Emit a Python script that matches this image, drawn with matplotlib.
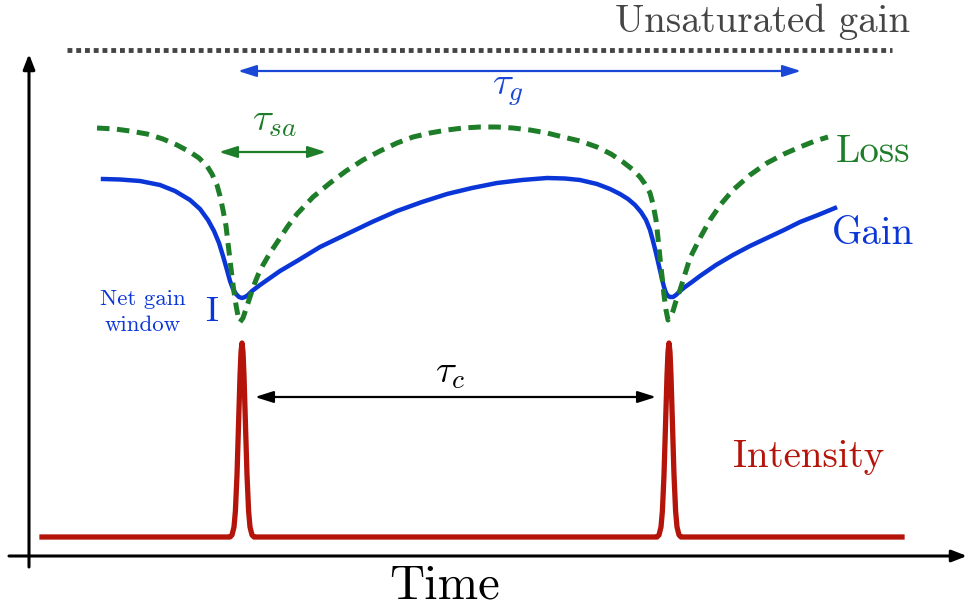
import matplotlib.pyplot as plt

plt.rcParams['font.family'] = 'serif'
plt.rcParams['font.serif'] = ['cmr10']
plt.rcParams['mathtext.fontset'] = 'cm'
plt.rcParams['axes.formatter.use_mathtext'] = True

# time axis runs left to right, level axis runs top (small) to bottom (large)
gain_t = [103, 120, 140, 160, 175, 190, 200, 208, 214, 219, 223, 227, 230, 233, 236,
          239, 242, 245, 248, 252, 256, 260, 270, 280, 297, 320, 347, 372, 397, 422,
          447, 472, 497, 522, 547, 565, 580, 597, 610, 620, 628, 635, 641, 646, 650,
          653, 656, 659, 662, 664, 666, 668, 670, 673, 676, 680, 685, 692, 700, 716,
          733, 750, 767, 784, 800, 818, 835]
gain_y = [179, 179.5, 181, 185, 191, 200, 209, 220, 231, 243, 256, 270, 281, 289, 294,
          297, 298, 297, 295, 291, 288, 285, 278, 271, 261, 247, 234, 222, 211, 202,
          194, 188, 183, 180, 178, 178.5, 180, 184, 189, 194, 199, 205, 212, 220, 230,
          241, 253, 266, 279, 287, 293, 296, 297, 297, 295, 291, 287, 282, 276, 265,
          255, 246, 238, 230, 222, 215, 208]

loss_t = [97, 115, 130, 147, 163, 177, 190, 199, 207, 212, 217, 220, 223, 226, 228,
          230, 232, 234, 236, 238, 240, 243, 246, 250, 254, 258, 263, 270, 280, 288,
          297, 313, 330, 346, 363, 380, 397, 413, 430, 447, 463, 480, 497, 513, 530,
          547, 563, 580, 597, 611, 623, 632, 640, 645, 650, 653, 656, 658, 660, 662,
          664, 666, 668, 670, 673, 676, 680, 685, 690, 700, 710, 721, 733, 750, 767,
          784, 800, 815, 828]
loss_y = [128, 129, 131, 134, 139, 145, 152, 158, 166, 174, 185, 196, 210, 226, 243,
          260, 277, 292, 305, 316, 322, 318, 309, 297, 285, 275, 265, 253, 238, 226,
          214, 197, 183, 171, 160, 151, 143, 137, 133, 130, 128, 127, 127, 128, 130,
          133, 137, 141, 147, 154, 162, 169, 177, 184, 193, 204, 220, 238, 258, 276,
          295, 310, 320, 318, 311, 301, 290, 274, 258, 238, 220, 204, 190, 175, 163,
          154, 147, 141, 137]

intensity_t = [42, 230, 232, 234, 235.4, 237, 238.7, 240, 241, 242, 243, 244, 245.3, 247,
               248.6, 250, 252, 254, 657, 659, 661, 662.4, 664, 665.7, 667, 668, 669,
               670, 671, 672.3, 674, 675.6, 677, 679, 681, 902]
intensity_y = [537, 537, 535, 527, 511, 475, 419, 376, 352, 343, 352, 376, 419, 475,
               511, 527, 535, 537, 537, 535, 527, 511, 475, 419, 376, 352, 343, 352,
               376, 419, 475, 511, 527, 535, 537, 537]

unsat_t = [67, 892]
unsat_y = [50, 50]

c_gain = '#0a36d8'
c_loss = '#1e7d28'
c_int = '#b5140a'
c_unsat = '#454545'

fig = plt.figure(figsize=(9.69, 6.10), dpi=100)
ax = fig.add_axes([0, 0, 1, 1])
ax.set_xlim(0, 969)
ax.set_ylim(610, 0)
ax.axis('off')

# axes with arrow tips
ax.annotate('', xy=(29, 54), xytext=(29, 567),
            arrowprops=dict(arrowstyle='-|>,head_length=0.9,head_width=0.35',
                            color='black', lw=2.2, shrinkA=0, shrinkB=0))
ax.annotate('', xy=(967, 556), xytext=(9, 556),
            arrowprops=dict(arrowstyle='-|>,head_length=0.9,head_width=0.35',
                            color='black', lw=2.2, shrinkA=0, shrinkB=0))

# curves
ax.plot(unsat_t, unsat_y, color=c_unsat, lw=3.5, dashes=(1.0, 0.8),
        solid_capstyle='butt', dash_capstyle='butt')
ax.plot(intensity_t, intensity_y, color=c_int, lw=3.8, solid_joinstyle='round')
ax.plot(gain_t, gain_y, color=c_gain, lw=3.2, solid_joinstyle='round')
ax.plot(loss_t, loss_y, color=c_loss, lw=3.6, dashes=(2.5, 1.5), dash_capstyle='butt')

# time scales
def span(x0, x1, y, color, lw=1.6):
    ax.annotate('', xy=(x1, y), xytext=(x0, y),
                arrowprops=dict(arrowstyle='<|-|>,head_length=1.1,head_width=0.35',
                                color=color, lw=lw, shrinkA=0, shrinkB=0))

span(238, 801, 71, '#1a47d6')
span(219, 326, 152, c_loss)
span(255, 656, 397, 'black')

ax.text(508, 90, r'$\tau_g$', color='#1a47d6', fontsize=28, ha='center', va='center')
ax.text(275, 121, r'$\tau_{sa}$', color=c_loss, fontsize=28, ha='center', va='center')
ax.text(450, 373, r'$\tau_c$', color='black', fontsize=28, ha='center', va='center')

# labels
ax.text(910, 22, 'Unsaturated gain', color=c_unsat, fontsize=28, ha='right', va='center')
ax.text(873, 152, 'Loss', color=c_loss, fontsize=28, ha='center', va='center')
ax.text(873, 234, 'Gain', color=c_gain, fontsize=28, ha='center', va='center')
ax.text(809, 457, 'Intensity', color=c_int, fontsize=28, ha='center', va='center')
ax.text(143, 312, 'Net gain\nwindow', color=c_gain, fontsize=16.5, ha='center',
        va='center', linespacing=1.4)
ax.text(212, 312, 'I', color=c_gain, fontsize=26, ha='center', va='center')
ax.text(445, 586, 'Time', color='black', fontsize=35, ha='center', va='center')

fig.savefig('out.png', dpi=100)
